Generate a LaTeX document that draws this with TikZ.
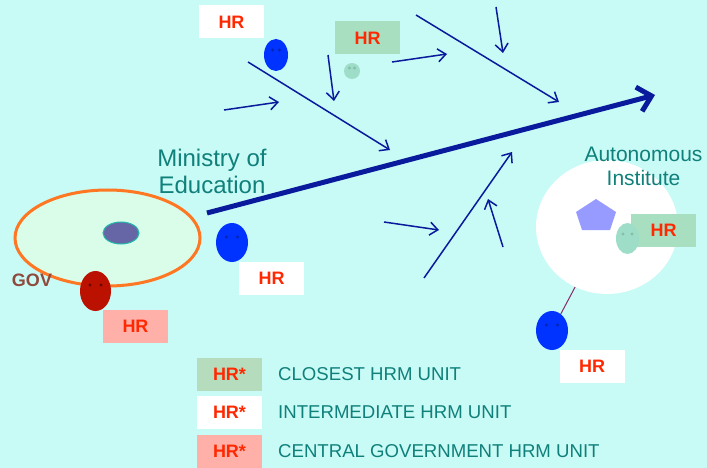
\documentclass[tikz,border=0pt]{standalone}
\usepackage{fontspec}
\setmainfont{Liberation Sans}
\usetikzlibrary{arrows.meta,shapes.geometric}

\definecolor{bgcyan}{RGB}{200,250,246}
\definecolor{hrred}{RGB}{255,40,0}
\definecolor{navy}{RGB}{10,26,156}
\definecolor{tealtxt}{RGB}{16,128,122}
\definecolor{govbrown}{RGB}{142,74,60}
\definecolor{govmint}{RGB}{217,253,233}
\definecolor{govorange}{RGB}{255,119,34}
\definecolor{slate}{RGB}{102,102,166}
\definecolor{slateedge}{RGB}{34,187,170}
\definecolor{darkred}{RGB}{187,17,0}
\definecolor{brightblue}{RGB}{0,51,255}
\definecolor{boxgreen}{RGB}{168,223,192}
\definecolor{leggreen}{RGB}{181,221,189}
\definecolor{boxpink}{RGB}{255,176,168}
\definecolor{facegreen}{RGB}{158,222,200}
\definecolor{pentblue}{RGB}{151,155,255}
\definecolor{linkpurple}{RGB}{138,42,106}

\tikzset{
  hrbox/.style={minimum width=65pt, minimum height=33pt, inner sep=0pt,
    text=hrred, font=\bfseries\fontsize{18}{18}\selectfont},
  face/.style={ellipse, inner sep=0pt, draw=none},
  flow/.style={draw=navy, line width=1.5pt,
    -{Straight Barb[length=8pt,width=13pt]}},
  bigflow/.style={draw=navy, line width=5pt,
    -{Straight Barb[length=13pt,width=25pt]}},
  tealtext/.style={text=tealtxt, align=center, inner sep=0pt},
  legtext/.style={text=tealtxt, anchor=west, inner sep=0pt,
    font=\fontsize{18.6}{18.6}\selectfont}
}

\begin{document}
\begin{tikzpicture}[x=1pt,y=-1pt]
    \fill[bgcyan] (0,0) rectangle (707,468);
    \useasboundingbox (0,0) rectangle (707,468);

    % government
    \node[face, fill=govmint, draw=govorange, line width=3pt,
      minimum width=185pt, minimum height=96pt] (gov) at (107.5,238) {};
    \node[face, fill=slate, draw=slateedge, line width=1pt,
      minimum width=36pt, minimum height=22pt] (core) at (121,233) {};
    \node[face, fill=darkred, minimum width=31pt, minimum height=40pt] (govface) at (95.5,291) {};
    \node[text=govbrown, font=\bfseries\fontsize{18}{18}\selectfont, inner sep=0pt] (govlbl) at (32,280) {GOV};
    \node[hrbox, fill=boxpink] (hrgov) at (135.5,326.5) {HR};

    % ministry
    \node[tealtext, font=\fontsize{24}{27}\selectfont] (min) at (212,171) {Ministry of\\Education};
    \node[face, fill=brightblue, minimum width=32pt, minimum height=39pt] (minface) at (232,242.5) {};
    \node[hrbox, fill=white] (hrmin) at (271.5,278.5) {HR};

    % upper units
    \node[hrbox, fill=white] (hrtop) at (231.5,22) {HR};
    \node[face, fill=brightblue, minimum width=24pt, minimum height=32pt] (topface) at (276,55) {};
    \node[hrbox, fill=boxgreen] (hrclose) at (367.5,38) {HR};
    \node[face, fill=facegreen, minimum width=16pt, minimum height=16pt] (closeface) at (352,71) {};

    % autonomous institute
    \node[face, fill=white, minimum width=142pt, minimum height=134pt] (inst) at (607,227) {};
    \node[tealtext, font=\fontsize{21}{24}\selectfont] (instlbl) at (643.5,166.5) {Autonomous\\Institute};
    \fill[pentblue] (596,199) -- (616,212) -- (610,230) -- (582,230) -- (576,212) -- cycle;
    \node[hrbox, fill=boxgreen] (hrinst) at (663.5,230.5) {HR};
    \node[face, fill=facegreen, minimum width=23pt, minimum height=31pt] (instface) at (627.5,238.5) {};
    \node[face, fill=brightblue, minimum width=32pt, minimum height=39pt] (botface) at (552,330.5) {};
    \node[hrbox, fill=white] (hrbot) at (592,366.5) {HR};
    \draw[linkpurple, line width=1pt] (inst) -- (botface);

    % eyes
    \foreach \f/\dx/\dy/\c in {govface/5.5/6/black!45!darkred, minface/5.5/5.5/black!30!brightblue,
        topface/3.5/5/black!30!brightblue, closeface/2.5/3/black!15!facegreen,
        instface/4.5/4.5/black!15!facegreen, botface/5.5/5.5/black!30!brightblue}
      \fill[\c] ([xshift=-\dx pt, yshift=\dy pt]\f.center) circle (1.6)
                ([xshift=\dx pt, yshift=\dy pt]\f.center) circle (1.6);

    % flows
    \coordinate (minS) at (207,213);
    \coordinate (minE) at (655,95);
    \draw[bigflow] (minS) -- (minE);
    \foreach \s/\e in {{(248,62)}/{(390,150)}, {(224,110)}/{(279,102)},
        {(328,55)}/{(334,101)}, {(392,62)}/{(447,54)},
        {(416,15)}/{(559,102)}, {(496,7)}/{(503,53)},
        {(384,222)}/{(439,230)}, {(424,278)}/{(512,152)},
        {(503,247)}/{(488,199)}}
      \draw[flow] \s -- \e;

    % legend
    \node[hrbox, fill=leggreen] (leg1) at (229.5,374) {HR*};
    \node[hrbox, fill=white] (leg2) at (229.5,412.5) {HR*};
    \node[hrbox, fill=boxpink] (leg3) at (229.5,451.5) {HR*};
    \node[legtext] (leg1txt) at (278,374) {CLOSEST HRM UNIT};
    \node[legtext] (leg2txt) at (278,412.5) {INTERMEDIATE HRM UNIT};
    \node[legtext] (leg3txt) at (278,451.5) {CENTRAL GOVERNMENT HRM UNIT};
\end{tikzpicture}
\end{document}
